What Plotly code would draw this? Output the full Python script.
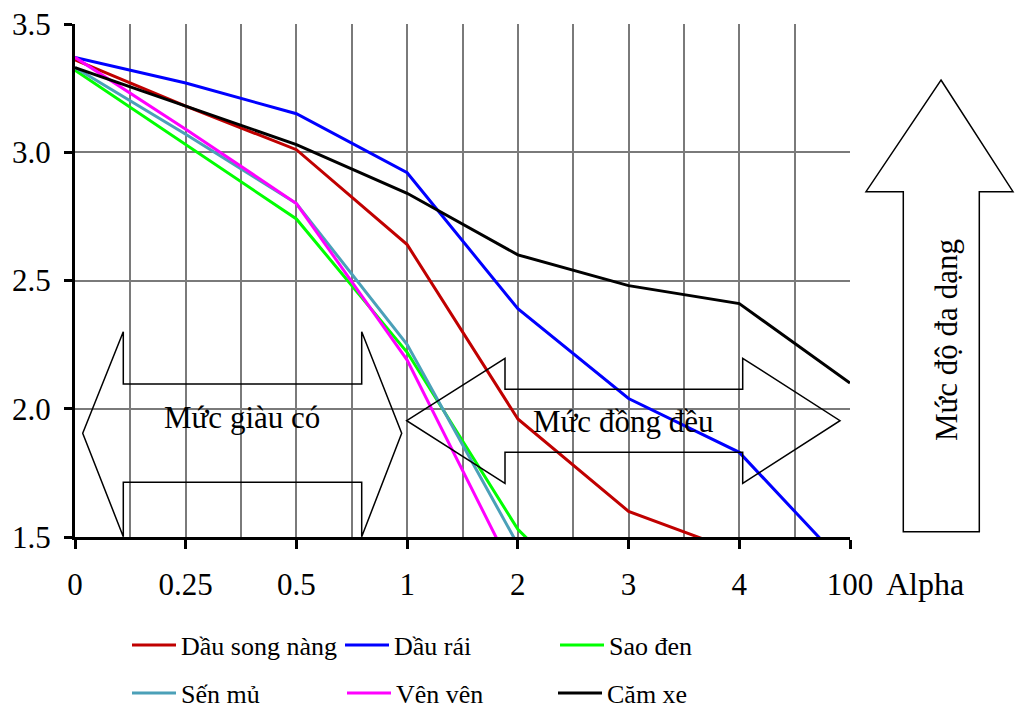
import numpy as np
import plotly.graph_objects as go

# ---- data ----
alpha_labels = ["0", "0.25", "0.5", "1", "2", "3", "4", "100"]
dau_song_nang = [3.36, 3.18, 3.01, 2.64, 1.96, 1.60, 1.44, None]
dau_rai = [3.37, 3.27, 3.15, 2.92, 2.39, 2.04, 1.83, 1.37]
sao_den = [3.32, 3.03, 2.74, 2.22, 1.53, 1.10, None, None]
sen_mu = [3.33, 3.07, 2.80, 2.25, 1.47, None, None, None]
ven_ven = [3.37, 3.09, 2.80, 2.19, 1.33, None, None, None]
cam_xe = [3.33, 3.18, 3.03, 2.84, 2.60, 2.48, 2.41, 2.10]

series_names = ["Dầu song nàng", "Dầu rái", "Sao đen", "Sến mủ", "Vên vên", "Căm xe"]
series_values = [dau_song_nang, dau_rai, sao_den, sen_mu, ven_ven, cam_xe]
series_colors = ["#C00000", "#0000FF", "#00FF00", "#4BA0B8", "#FF00FF", "#000000"]
series_legend = ["legend", "legend", "legend", "legend2", "legend2", "legend2"]
series_legendwidth = [154, 156, 150, 156, 152, 150]

FONT = "Liberation Serif, Times New Roman, serif"
W, H = 1015, 715
L, R, T, B = 75, 850, 24, 537


def px(x):
    return (x - L) / (R - L)


def py(y):
    return (B - y) / (B - T)


def path(points):
    s = "M " + " L ".join(f"{px(a):.5f},{py(b):.5f}" for a, b in points)
    return s + " Z"


xpos = list(range(len(alpha_labels)))

fig = go.Figure()
for name, vals, col, lg, lw in zip(series_names, series_values, series_colors,
                                   series_legend, series_legendwidth):
    fig.add_trace(go.Scatter(
        x=xpos, y=vals, mode="lines", name=name, legend=lg,
        legendwidth=lw,
        line=dict(color=col, width=3), connectgaps=False,
    ))

grid = "#7a7a7a"
fig.update_xaxes(
    range=[0, len(alpha_labels) - 1], tickmode="array", tickvals=xpos,
    ticktext=alpha_labels, ticks="outside", ticklen=9, tickwidth=3,
    tickcolor="black", showline=True, linewidth=3, linecolor="black",
    showgrid=True, gridcolor=grid, gridwidth=1.5, zeroline=False,
    minor=dict(tick0=0, dtick=0.5, showgrid=True, gridcolor=grid,
               gridwidth=1.5, ticks=""),
    tickfont=dict(family=FONT, size=31, color="black"),
    ticklabelstandoff=9,
)
fig.update_yaxes(
    range=[1.5, 3.5], tick0=1.5, dtick=0.5, tickformat=".1f",
    ticks="outside", ticklen=8, tickwidth=3, tickcolor="black",
    showline=True, linewidth=3, linecolor="black",
    showgrid=True, gridcolor=grid, gridwidth=1.5, zeroline=False,
    tickfont=dict(family=FONT, size=31, color="black"),
    ticklabelstandoff=7,
)

arrow_line = dict(color="black", width=1.5)
left_arrow = [(82.7, 433.3), (123.3, 331.7), (123.3, 384), (361.7, 384),
              (361.7, 331.7), (401.7, 433.3), (361.7, 536.7), (361.7, 482.3),
              (123.3, 482.3), (123.3, 536.7)]
right_arrow = [(406.7, 420.7), (505, 358.3), (505, 389.3), (742.7, 389.3),
               (742.7, 358.3), (840, 420.7), (742.7, 483.3), (742.7, 452.3),
               (505, 452.3), (505, 483.3)]
up_arrow = [(941, 80), (1013, 191.7), (979.3, 191.7), (979.3, 531.7),
            (903.3, 531.7), (903.3, 191.7), (866, 191.7)]
for pts in (left_arrow, right_arrow, up_arrow):
    fig.add_shape(type="path", path=path(pts), xref="paper", yref="paper",
                  line=arrow_line, fillcolor="rgba(0,0,0,0)", layer="above")

ann_font = dict(family=FONT, size=31, color="black")
fig.add_annotation(text="Mức giàu có", x=px(242), y=py(417), xref="paper",
                   yref="paper", showarrow=False, font=ann_font,
                   xanchor="center", yanchor="middle")
fig.add_annotation(text="Mức đồng đều", x=px(623), y=py(421), xref="paper",
                   yref="paper", showarrow=False, font=ann_font,
                   xanchor="center", yanchor="middle")
fig.add_annotation(text="Mức độ đa dạng", x=px(946), y=py(340), xref="paper",
                   yref="paper", showarrow=False, font=ann_font, textangle=-90,
                   xanchor="center", yanchor="middle")
fig.add_annotation(text="Alpha", x=px(884), y=py(584), xref="paper",
                   yref="paper", showarrow=False,
                   font=dict(family=FONT, size=32, color="black"),
                   xanchor="left", yanchor="middle")

leg_common = dict(orientation="h", xref="paper", yref="paper",
                  xanchor="left", yanchor="middle", itemwidth=44,
                  font=dict(family=FONT, size=26, color="black"),
                  bgcolor="rgba(0,0,0,0)", borderwidth=0, entrywidthmode="pixels",
                  itemclick=False, itemdoubleclick=False)

fig.update_layout(
    width=W, height=H,
    margin=dict(l=L, r=W - R, t=T, b=H - B, pad=0, autoexpand=False),
    plot_bgcolor="white", paper_bgcolor="white",
    legend=dict(x=px(127), y=py(645), **leg_common),
    legend2=dict(x=px(127), y=py(693), **leg_common),
    showlegend=True,
)

fig.write_html("out.html")
